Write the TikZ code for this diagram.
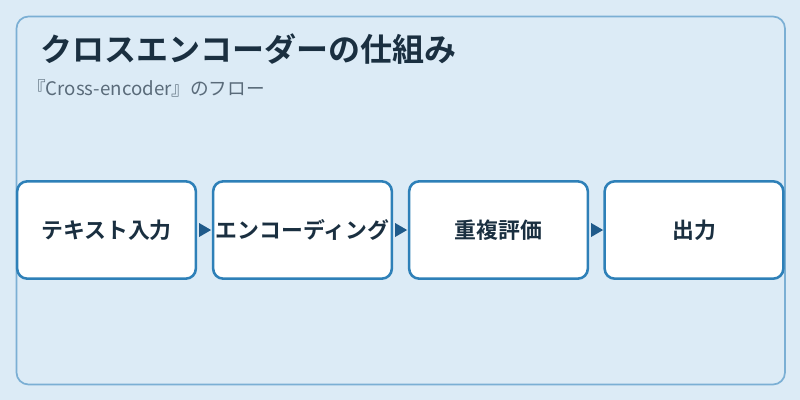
\documentclass[tikz,border=0pt]{standalone}
\usepackage{fontspec}
\newfontfamily\jpfont{Noto Sans CJK JP}
\newfontfamily\jpbold{Noto Sans CJK JP Bold}
\usetikzlibrary{arrows.meta}
\definecolor{bgc}{HTML}{DCEBF6}
\definecolor{panelline}{HTML}{7BAFD4}
\definecolor{boxline}{HTML}{2E80B8}
\definecolor{arrowc}{HTML}{1F5A8A}
\definecolor{textc}{HTML}{1A2F40}
\definecolor{subc}{HTML}{5A6B7A}
\tikzset{
  stepbox/.style={draw=boxline, line width=1.9pt, fill=white, rounded corners=7.5pt,
    minimum width=134pt, minimum height=73pt, inner sep=0pt, text=textc,
    font=\jpbold\fontsize{16.4pt}{19pt}\selectfont}
}
\begin{document}
\begin{tikzpicture}[x=0.75pt,y=-0.75pt]
\fill[bgc] (0,0) rectangle (800,400);
\useasboundingbox (0,0) rectangle (800,400);
\draw[panelline, line width=1.3pt, fill=bgc, rounded corners=9pt] (16.5,16.5) rectangle (785,384.5);
\node[anchor=base west, inner sep=0pt, text=textc, font=\jpbold\fontsize{24pt}{28pt}\selectfont] (title) at (40,61) {クロスエンコーダーの仕組み};
\node[anchor=base west, inner sep=0pt, text=subc, font=\jpfont\fontsize{14pt}{16pt}\selectfont] (sub) at (27,95) {『Cross-encoder』のフロー};
\node[stepbox] (b1) at (106.5,230) {テキスト入力};
\node[stepbox] (b2) at (302.5,230) {エンコーディング};
\node[stepbox] (b3) at (498.5,230) {重複評価};
\node[stepbox] (b4) at (694,230) {出力};
\foreach \a/\b in {b1/b2,b2/b3,b3/b4}{
  \fill[arrowc] ([xshift=1.5pt]\a.east) ++(0,-5.25pt) -- ++(9pt,5.25pt) -- ++(-9pt,5.25pt) -- cycle;
}
\end{tikzpicture}
\end{document}
